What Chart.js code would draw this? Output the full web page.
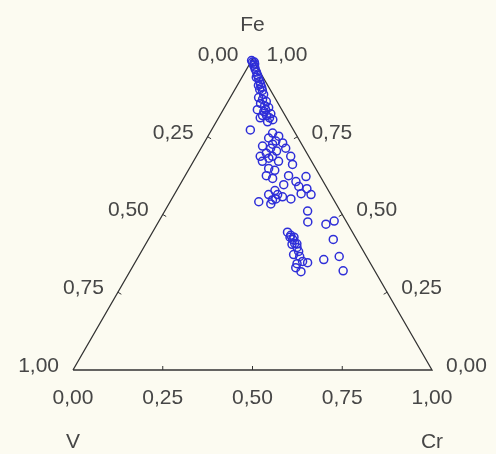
<!DOCTYPE html>
<html>
<head>
<meta charset="utf-8">
<script src="https://cdn.jsdelivr.net/npm/chart.js@4/dist/chart.umd.min.js"></script>
<style>
    html, body { margin: 0; padding: 0; background: #fcfbf1; }
    #wrap { width: 496px; height: 454px; }
</style>
</head>
<body>
<div id="wrap"><canvas id="ternary" width="496" height="454"></canvas></div>
<script>
// Ternary corners and tick values
const cornerNames = ['Fe', 'V', 'Cr'];
const tickValues = [0, 0.25, 0.5, 0.75, 1];

// Compositions (fractions)
const feValues = [0.995, 0.990, 0.990, 0.984, 0.974, 0.967, 0.958, 0.948, 0.938, 0.928,
    0.919, 0.909, 0.899, 0.915, 0.886, 0.876, 0.870, 0.863, 0.857, 0.850,
    0.844, 0.837, 0.831, 0.824, 0.818, 0.811, 0.805, 0.798, 0.772, 0.762,
    0.752, 0.746, 0.736, 0.730, 0.720, 0.713, 0.697, 0.704, 0.687, 0.687,
    0.687, 0.713, 0.671, 0.671, 0.661, 0.648, 0.642, 0.625, 0.616, 0.625,
    0.606, 0.622, 0.596, 0.590, 0.583, 0.564, 0.567, 0.564, 0.550, 0.557,
    0.550, 0.541, 0.534, 0.577, 0.511, 0.476, 0.469, 0.479, 0.420, 0.443,
    0.433, 0.420, 0.407, 0.394, 0.381, 0.371, 0.365, 0.349, 0.342, 0.345,
    0.316, 0.329, 0.355, 0.365, 0.319, 0.427, 0.404,
    0.980, 0.941, 0.902, 0.837, 0.818, 0.811, 0.726, 0.681, 0.564, 0.547,
    0.427, 0.407];
const crValues = [0.000, 0.005, 0.010, 0.014, 0.019, 0.024, 0.032, 0.040, 0.048, 0.056,
    0.063, 0.071, 0.078, 0.059, 0.088, 0.079, 0.093, 0.107, 0.094, 0.109,
    0.123, 0.095, 0.116, 0.139, 0.130, 0.116, 0.154, 0.143, 0.108, 0.175,
    0.197, 0.172, 0.197, 0.219, 0.168, 0.194, 0.190, 0.215, 0.178, 0.212,
    0.263, 0.236, 0.192, 0.237, 0.281, 0.221, 0.241, 0.226, 0.248, 0.288,
    0.318, 0.338, 0.289, 0.334, 0.360, 0.381, 0.352, 0.263, 0.290, 0.305,
    0.332, 0.247, 0.284, 0.274, 0.398, 0.416, 0.470, 0.488, 0.515, 0.376,
    0.390, 0.402, 0.414, 0.427, 0.438, 0.429, 0.449, 0.465, 0.453, 0.481,
    0.477, 0.456, 0.521, 0.559, 0.593, 0.391, 0.408,
    0.013, 0.040, 0.069, 0.118, 0.119, 0.142, 0.193, 0.205, 0.288, 0.282,
    0.402, 0.422];
const vValues = [0.005, 0.005, 0.000, 0.002, 0.007, 0.009, 0.010, 0.012, 0.014, 0.016,
    0.018, 0.020, 0.023, 0.026, 0.026, 0.045, 0.037, 0.030, 0.049, 0.041,
    0.033, 0.068, 0.053, 0.037, 0.052, 0.073, 0.041, 0.059, 0.120, 0.063,
    0.051, 0.082, 0.067, 0.051, 0.112, 0.093, 0.113, 0.081, 0.135, 0.101,
    0.050, 0.051, 0.137, 0.092, 0.058, 0.131, 0.117, 0.149, 0.136, 0.087,
    0.076, 0.040, 0.115, 0.076, 0.057, 0.055, 0.081, 0.173, 0.160, 0.138,
    0.118, 0.212, 0.182, 0.149, 0.091, 0.108, 0.061, 0.033, 0.065, 0.181,
    0.177, 0.178, 0.179, 0.179, 0.181, 0.200, 0.186, 0.186, 0.205, 0.174,
    0.207, 0.215, 0.124, 0.076, 0.088, 0.182, 0.188,
    0.007, 0.019, 0.029, 0.045, 0.063, 0.047, 0.081, 0.114, 0.148, 0.171,
    0.171, 0.174];

// ternary (Fe, V, Cr) -> cartesian, Fe at top, V bottom-left, Cr bottom-right
function toXY(fe, v, cr) {
    const s = fe + v + cr;
    const f = fe / s, c = cr / s;
    return { x: c + f / 2, y: f };
}

const frame = [toXY(0, 1, 0), toXY(0, 0, 1), toXY(1, 0, 0), toXY(0, 1, 0)];
const points = feValues.map((fe, i) => toXY(fe, vValues[i], crValues[i]));

const fmt = t => t.toFixed(2).replace('.', ',');
const textColor = '#464646';
const labelFont = '21px "Liberation Sans", Arial, sans-serif';

const ternaryLabels = {
    id: 'ternaryLabels',
    beforeDraw(chart) {
        const ctx = chart.ctx;
        ctx.save();
        ctx.fillStyle = '#fcfbf1';
        ctx.fillRect(0, 0, chart.width, chart.height);
        ctx.restore();
    },
    afterDatasetsDraw(chart) {
        const { ctx, scales: { x, y } } = chart;
        const px = p => ({ x: x.getPixelForValue(p.x), y: y.getPixelForValue(p.y) });
        ctx.save();
        ctx.font = labelFont;
        ctx.fillStyle = textColor;
        ctx.strokeStyle = '#333';
        ctx.lineWidth = 1;
        ctx.textBaseline = 'middle';

        // tick marks (inside, perpendicular)
        const tickLen = 4;
        tickValues.slice(1, -1).forEach(t => {
            const b = px(toXY(0, 1 - t, t));
            ctx.beginPath(); ctx.moveTo(b.x, b.y); ctx.lineTo(b.x, b.y - tickLen); ctx.stroke();
            const l = px(toXY(1 - t, t, 0));
            ctx.beginPath(); ctx.moveTo(l.x, l.y); ctx.lineTo(l.x + tickLen * 0.866, l.y + tickLen * 0.5); ctx.stroke();
            const r = px(toXY(t, 0, 1 - t));
            ctx.beginPath(); ctx.moveTo(r.x, r.y); ctx.lineTo(r.x - tickLen * 0.866, r.y + tickLen * 0.5); ctx.stroke();
        });

        // bottom axis: Cr
        ctx.textAlign = 'center';
        tickValues.forEach(t => {
            const p = px(toXY(0, 1 - t, t));
            ctx.fillText(fmt(t), p.x, p.y + 28);
        });
        // left axis: V
        ctx.textAlign = 'right';
        tickValues.forEach(t => {
            const p = px(toXY(1 - t, t, 0));
            ctx.fillText(fmt(t), p.x - 14, p.y - 4);
        });
        // right axis: Fe
        ctx.textAlign = 'left';
        tickValues.forEach(t => {
            const p = px(toXY(t, 0, 1 - t));
            ctx.fillText(fmt(t), p.x + 14, p.y - 4);
        });

        // corner names
        ctx.textAlign = 'center';
        const top = px(toXY(1, 0, 0));
        const left = px(toXY(0, 1, 0));
        const right = px(toXY(0, 0, 1));
        ctx.fillText(cornerNames[0], top.x, top.y - 34);
        ctx.fillText(cornerNames[1], left.x, left.y + 72);
        ctx.fillText(cornerNames[2], right.x, right.y + 72);
        ctx.restore();
    }
};

new Chart(document.getElementById('ternary'), {
    type: 'scatter',
    data: {
        datasets: [
            {
                label: 'frame',
                data: frame,
                showLine: true,
                borderColor: '#333333',
                borderWidth: 1.3,
                pointRadius: 0,
                clip: false,
                order: 2
            },
            {
                label: 'samples',
                data: points,
                borderColor: '#2e2ed8',
                backgroundColor: 'rgba(0,0,0,0)',
                borderWidth: 1.5,
                pointRadius: 4,
                clip: false,
                order: 1
            }
        ]
    },
    options: {
        responsive: false,
        animation: false,
        layout: { padding: { left: 73, right: 64, top: 59, bottom: 84 } },
        scales: {
            x: { type: 'linear', min: 0, max: 1, display: false },
            y: { type: 'linear', min: 0, max: 1, display: false }
        },
        plugins: {
            legend: { display: false },
            tooltip: { enabled: false }
        }
    },
    plugins: [ternaryLabels]
});
</script>
</body>
</html>
